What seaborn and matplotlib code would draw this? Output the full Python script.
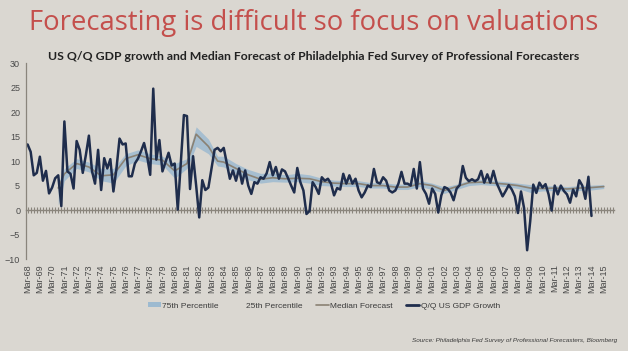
import matplotlib
matplotlib.use("Agg")
import matplotlib.pyplot as plt
from matplotlib.patches import Patch
from matplotlib.lines import Line2D
import seaborn as sns
import pandas as pd

# Quarterly nominal GDP growth (Q/Q annualised, %), from 1968 Q1
gdp_growth = [
    13.4, 11.9, 7.1, 7.6,   10.9, 6.0, 8.0, 3.4,    4.6, 6.5, 7.1, 0.8,
    18.1, 7.9, 7.4, 4.4,    14.1, 12.3, 7.6, 11.2,  15.2, 8.0, 5.4, 12.3,
    4.1, 10.6, 8.5, 10.4,   3.8, 8.5, 14.6, 13.4,   13.6, 6.9, 6.9, 9.5,
    10.5, 12.0, 13.7, 11.0, 7.2, 24.8, 10.3, 14.3,  7.9, 9.8, 11.7, 9.1,
    9.5, 0.1, 9.8, 19.4,    19.2, 4.3, 11.0, 5.0,   -1.5, 6.1, 4.1, 4.6,
    8.5, 12.3, 12.7, 12.0,  12.7, 9.5, 6.4, 8.1,    6.0, 8.5, 5.4, 8.1,
    5.0, 3.3, 5.7, 5.4,     6.7, 6.4, 7.5, 9.8,     7.1, 8.8, 6.4, 8.3,
    7.9, 6.5, 5.0, 3.6,     8.6, 5.7, 4.0, -0.8,    -0.2, 5.7, 4.7, 3.3,
    6.7, 6.0, 6.4, 5.4,     3.0, 4.5, 4.2, 7.4,     5.4, 7.1, 5.4, 6.4,
    4.0, 2.6, 3.6, 5.0,     4.7, 8.4, 5.7, 5.4,     6.7, 6.0, 4.0, 3.6,
    4.0, 5.4, 7.8, 5.4,     5.4, 5.0, 8.4, 4.4,     9.8, 4.4, 3.3, 1.3,
    4.4, 3.3, -0.5, 3.0,    4.7, 4.4, 3.6, 2.0,     4.4, 5.1, 9.0, 6.6,
    5.9, 6.3, 5.9, 6.3,     8.0, 5.6, 7.3, 5.6,     8.0, 5.6, 4.2, 2.8,
    3.9, 5.1, 4.2, 2.8,     -0.6, 3.8, 0.4, -8.2,   -2.3, 5.2, 3.5, 5.6,
    4.6, 5.3, 3.2, -0.1,    5.0, 3.2, 5.0, 3.9,     3.2, 1.5, 4.2, 2.8,
    6.1, 5.0, 2.3, 6.8,     -1.2,
]
gdp_years = [1968 + i / 4 for i in range(len(gdp_growth))]

# SPF median forecast and interquartile range
fc_years = [1970.5, 1971, 1972, 1973, 1974, 1975, 1976, 1977, 1978, 1979,
            1980, 1981, 1981.75, 1982.75, 1983.5, 1984, 1985, 1986, 1987, 1988,
            1989, 1990, 1991, 1992, 1993, 1994, 1995, 1996, 1997, 1998,
            1999, 2000, 2001, 2002, 2003, 2004, 2005, 2006, 2007, 2008,
            2009, 2010, 2011, 2012, 2013, 2014, 2015]
fc_median = [4.5, 7.4, 9.5, 8.8, 7.0, 7.2, 10.5, 11.3, 10.5, 10.2,
             8.0, 9.5, 15.5, 13.0, 10.0, 9.8, 8.5, 7.2, 6.3, 6.6,
             6.4, 6.5, 6.4, 5.8, 5.5, 5.4, 5.4, 5.0, 5.0, 4.7,
             4.7, 5.4, 5.0, 4.0, 4.8, 5.6, 5.7, 5.5, 5.3, 5.0,
             4.5, 4.4, 4.5, 4.3, 4.5, 4.6, 4.8]
fc_p25 = [1.0, 6.0, 8.5, 7.8, 6.0, 5.5, 9.0, 10.2, 9.5, 9.2,
          6.5, 8.5, 13.0, 11.5, 9.0, 8.8, 7.5, 6.2, 5.5, 5.8,
          5.7, 5.8, 5.5, 5.0, 4.9, 4.8, 4.8, 4.5, 4.5, 4.2,
          4.2, 4.8, 4.2, 3.4, 4.2, 5.0, 5.2, 5.0, 4.8, 4.4,
          3.6, 3.9, 4.0, 3.8, 4.0, 4.1, 4.4]
fc_p75 = [5.5, 8.5, 10.5, 9.8, 8.5, 8.5, 11.5, 12.3, 11.5, 11.0,
          9.5, 10.5, 17.0, 14.5, 11.0, 11.0, 9.5, 8.3, 7.5, 7.6,
          7.2, 7.5, 7.2, 6.5, 6.1, 6.0, 6.0, 5.6, 5.6, 5.3,
          5.3, 6.0, 5.5, 4.7, 5.3, 6.1, 6.2, 6.0, 5.8, 5.5,
          5.2, 4.9, 5.0, 4.8, 5.0, 5.1, 5.2]

tick_years = list(range(1968, 2016))
tick_labels = [f"Mar-{y % 100:02d}" for y in tick_years]

bg = "#dad7d1"
navy = "#1f2d4c"
band_col = "#9dbad0"
median_col = "#8a8173"
narrow = ["Liberation Sans Narrow", "Liberation Sans", "DejaVu Sans"]

sns.set_theme(style="white")
plt.rcParams["font.family"] = ["Open Sans", "DejaVu Sans"]

gdp_df = pd.DataFrame({"year": gdp_years, "growth": gdp_growth})
fc_df = pd.DataFrame({"year": fc_years, "median": fc_median,
                      "p25": fc_p25, "p75": fc_p75})

fig = plt.figure(figsize=(6.28, 3.51), dpi=100, facecolor=bg)
ax = fig.add_axes([0.042, 0.262, 0.935, 0.558])
ax.set_facecolor(bg)

ax.fill_between(fc_df["year"], fc_df["p25"], fc_df["p75"],
                color=band_col, alpha=0.85, lw=0)
sns.lineplot(data=fc_df, x="year", y="median", ax=ax, color=median_col, lw=1.2)
sns.lineplot(data=gdp_df, x="year", y="growth", ax=ax, color=navy, lw=1.8)

ax.set_xlim(1967.9, 2015.8)
ax.set_ylim(-10, 30)
ax.set_yticks(range(-10, 31, 5))
ax.set_xticks(tick_years)
ax.set_xticklabels(tick_labels, rotation=90)
ax.set_xlabel("")
ax.set_ylabel("")
for s in ["top", "right", "bottom"]:
    ax.spines[s].set_visible(False)
ax.spines["left"].set_color("#8a857c")
ax.spines["left"].set_linewidth(0.9)
ax.tick_params(axis="y", direction="inout", length=5, width=0.8, color="#8a857c",
               labelsize=6.5, labelcolor="#4a4a4a", pad=2)
ax.tick_params(axis="x", length=0, labelsize=6.5, labelcolor="#4a4a4a", pad=4)
for lab in ax.get_xticklabels() + ax.get_yticklabels():
    lab.set_family(narrow)

# hashed zero axis
zero_ax = ax.secondary_xaxis(0.25)
zero_ax.set_xticks([1968 + q / 4 for q in range(0, 4 * 48)])
zero_ax.set_xticklabels([])
zero_ax.tick_params(direction="inout", length=5, width=0.8, color="#8a857c")
zero_ax.spines["bottom"].set_color("#8a857c")
zero_ax.spines["bottom"].set_linewidth(1.0)

fig.text(0.5, 0.935, "Forecasting is difficult so focus on valuations",
         ha="center", va="center", color="#c44f4c", fontsize=19.8)
fig.text(0.5, 0.838, "US Q/Q GDP growth and Median Forecast of Philadelphia Fed "
         "Survey of Professional Forecasters",
         ha="center", va="center", color="#222222", fontsize=8.8,
         fontweight="bold", family=["Lato", "DejaVu Sans"])

handles = [Patch(facecolor=band_col, edgecolor="none"),
           Patch(facecolor=bg, edgecolor="none"),
           Line2D([], [], color=median_col, lw=1.2),
           Line2D([], [], color=navy, lw=2.0)]
labels = ["75th Percentile", "25th Percentile", "Median Forecast",
          "Q/Q US GDP Growth"]
fig.legend(handles, labels, loc="center", bbox_to_anchor=(0.516, 0.128), ncol=4,
           frameon=False, prop={"family": narrow, "size": 6.0},
           handlelength=1.5, handleheight=0.5, handletextpad=0.2,
           columnspacing=1.6, labelcolor="#3a3a3a")

fig.text(0.983, 0.03, "Source: Philadelphia Fed Survey of Professional "
         "Forecasters, Bloomberg", ha="right", va="center", fontsize=4.6,
         style="italic", color="#3a3a3a", family=narrow)

fig.savefig("out.png", dpi=100, facecolor=bg)
